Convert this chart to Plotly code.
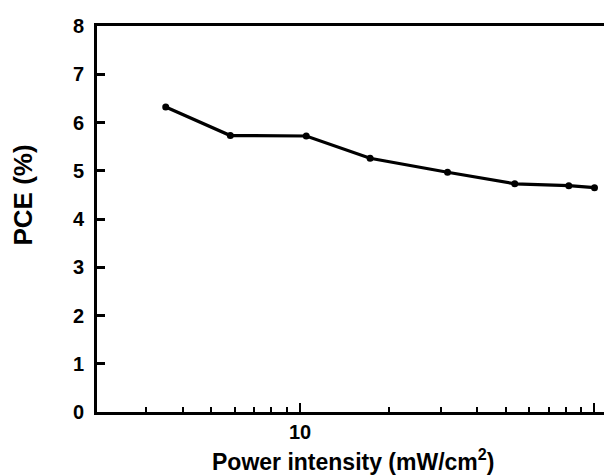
import plotly.graph_objects as go
import math

power = [3.5, 5.8, 10.5, 17.3, 31.7, 53.6, 81.8, 100]
pce = [6.32, 5.73, 5.72, 5.26, 4.97, 4.73, 4.69, 4.65]

x_major = [10, 100]
x_major_text = ["10", ""]
x_minor = [3, 4, 5, 6, 7, 8, 9, 20, 30, 40, 50, 60, 70, 80, 90]
y_ticks = [0, 1, 2, 3, 4, 5, 6, 7, 8]

FONT = "Liberation Sans, Arial, sans-serif"

fig = go.Figure()
fig.add_trace(go.Scatter(
    x=power, y=pce, mode="lines+markers",
    line=dict(color="black", width=3.2),
    marker=dict(color="black", size=7),
    showlegend=False,
))

fig.update_layout(
    width=604, height=475,
    margin=dict(l=97, r=0, t=26, b=63),
    paper_bgcolor="white", plot_bgcolor="white",
    font=dict(family=FONT, color="black", size=20, weight="bold"),
    xaxis=dict(
        type="log", range=[math.log10(2.045), 2.0323],
        tickmode="array", tickvals=x_major, ticktext=x_major_text,
        ticks="inside", ticklen=9, tickwidth=2, tickcolor="black",
        minor=dict(tickmode="array", tickvals=x_minor, ticks="inside",
                   ticklen=5, tickwidth=2, tickcolor="black", showgrid=False),
        showline=True, linecolor="black", linewidth=3, mirror=True,
        showgrid=False, zeroline=False,
        tickfont=dict(family=FONT, size=20, weight="bold"),
    ),
    yaxis=dict(
        range=[0, 8], tickmode="array", tickvals=y_ticks,
        ticks="inside", ticklen=8, tickwidth=3, tickcolor="black",
        showline=True, linecolor="black", linewidth=3,
        showgrid=False, zeroline=False, ticklabelstandoff=6,
        tickfont=dict(family=FONT, size=20, weight="bold"),
    ),
    annotations=[
        dict(text="Power intensity (mW/cm<sup>2</sup>)", xref="paper", yref="paper",
             x=(352.5 - 97) / 507, y=-(460 - 412) / 386, xanchor="center", yanchor="middle",
             showarrow=False, font=dict(family=FONT, size=23, weight="bold")),
        dict(text="PCE (%)", xref="paper", yref="paper", textangle=-90,
             x=-(97 - 22) / 507, y=(412 - 195.5) / 386, xanchor="center", yanchor="middle",
             showarrow=False, font=dict(family=FONT, size=26, weight="bold")),
    ],
)

fig.write_html("out.html")
